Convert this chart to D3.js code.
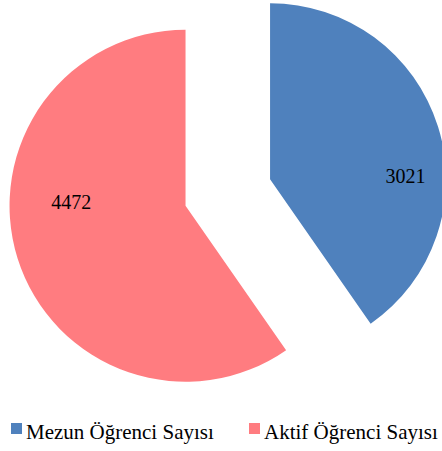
<!DOCTYPE html>
<html>
<head>
<meta charset="utf-8">
<script src="https://cdn.jsdelivr.net/npm/d3@7"></script>
<style>
  body { margin: 0; background: #fff; }
  svg { display: block; }
</style>
</head>
<body>
<div id="chart"></div>
<script>
var width = 442;
var height = 451;

// data
var categories = ["Mezun Öğrenci Sayısı", "Aktif Öğrenci Sayısı"];
var values = [3021, 4472];
var colors = ["#4F81BD", "#FF7C80"];

var cx = 227.8, cy = 192.5;
var radius = 176;
var explode = 44.3;
// label placement: angle (deg, clockwise from top) and fraction of radius
var labelAngle = [88.5, 272];
var labelFrac = [0.77, 0.65];

var serif = "'Liberation Serif', 'Times New Roman', serif";

var svg = d3.select("#chart")
  .append("svg")
  .attr("width", width)
  .attr("height", height);

var pie = d3.pie()
  .sort(null)
  .value(function(d) { return d; });

var arcs = pie(values);

var arc = d3.arc()
  .innerRadius(0)
  .outerRadius(radius);

var g = svg.append("g")
  .attr("transform", "translate(" + cx + "," + cy + ")");

var slice = g.selectAll("g.slice")
  .data(arcs)
  .enter().append("g")
  .attr("class", "slice")
  .attr("transform", function(d) {
    var a = (d.startAngle + d.endAngle) / 2;
    return "translate(" + (explode * Math.sin(a)) + "," + (-explode * Math.cos(a)) + ")";
  });

slice.append("path")
  .attr("d", arc)
  .attr("fill", function(d, i) { return colors[i]; });

slice.append("text")
  .attr("x", function(d, i) {
    return radius * labelFrac[i] * Math.sin(labelAngle[i] * Math.PI / 180);
  })
  .attr("y", function(d, i) {
    return -radius * labelFrac[i] * Math.cos(labelAngle[i] * Math.PI / 180);
  })
  .attr("dy", "0.35em")
  .attr("text-anchor", "middle")
  .style("font-family", serif)
  .style("font-size", "20px")
  .attr("fill", "#000")
  .text(function(d) { return d.data; });

// legend
var legendX = [11, 249];
var legend = svg.selectAll("g.legend")
  .data(categories)
  .enter().append("g")
  .attr("class", "legend")
  .attr("transform", function(d, i) { return "translate(" + legendX[i] + ",423)"; });

legend.append("rect")
  .attr("width", 11)
  .attr("height", 11)
  .attr("fill", function(d, i) { return colors[i]; });

legend.append("text")
  .attr("x", 15)
  .attr("y", 16)
  .style("font-family", serif)
  .style("font-size", "21px")
  .attr("fill", "#000")
  .text(function(d) { return d; });
</script>
</body>
</html>
